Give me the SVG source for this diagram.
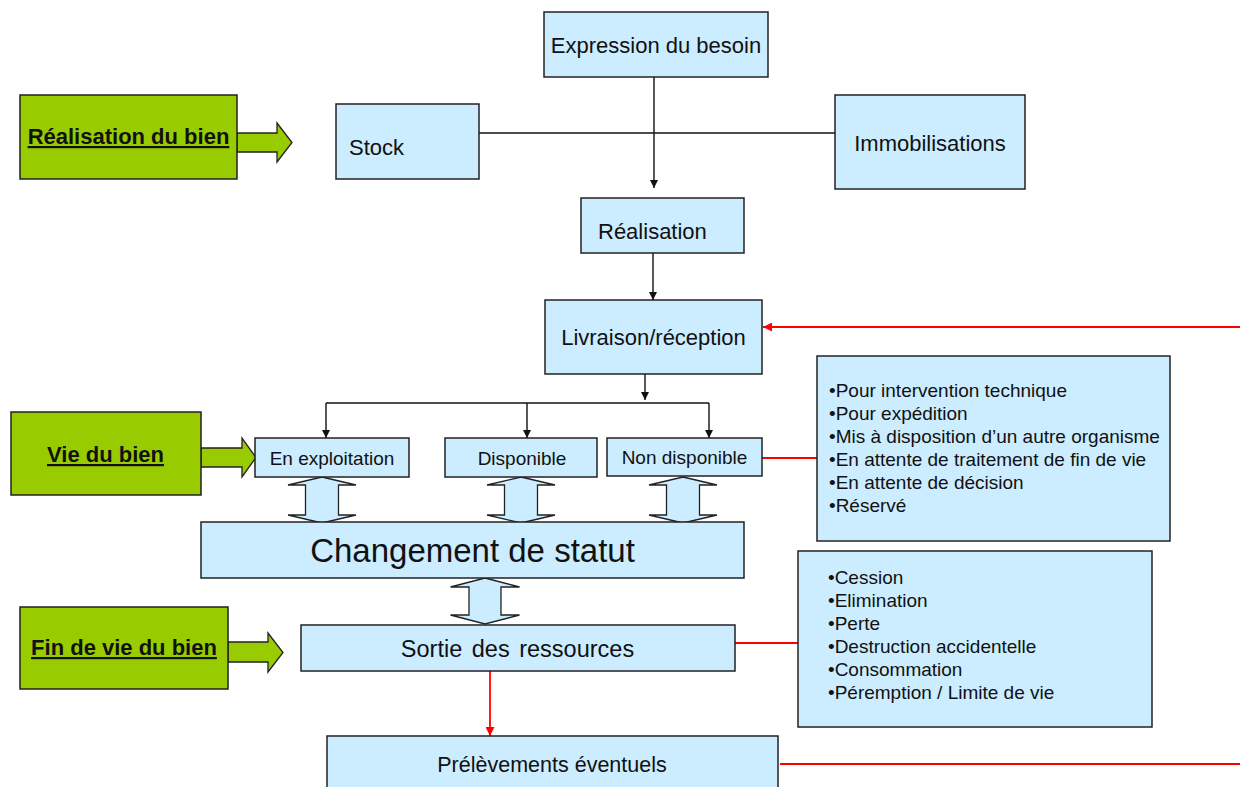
<svg xmlns="http://www.w3.org/2000/svg" width="1240" height="787" viewBox="0 0 1240 787">
<defs>
<style>
.box{fill:#CCECFF;stroke:#222;stroke-width:1.5}
.green{fill:#99CC00;stroke:#222;stroke-width:1.5}
.t{font-family:"Liberation Sans",Arial,sans-serif;fill:#111}
.g{font-family:"Liberation Sans",Arial,sans-serif;font-weight:bold;font-size:22px;text-decoration:underline;fill:#111}
.ln{fill:none;stroke:#111;stroke-width:1.4}
.red{fill:none;stroke:#FF0000;stroke-width:1.8}
.dbl{fill:#CCECFF;stroke:#222;stroke-width:1.3}
.garr{fill:#99CC00;stroke:#222;stroke-width:1.3}
</style>
<marker id="ab" viewBox="0 0 10 10" refX="10" refY="5" markerWidth="8" markerHeight="10" markerUnits="userSpaceOnUse" orient="auto"><path d="M0,0 L10,5 L0,10 Z" fill="#111"/></marker>
<marker id="ar" viewBox="0 0 10 10" refX="10" refY="5" markerWidth="12" markerHeight="9" markerUnits="userSpaceOnUse" orient="auto"><path d="M0,0 L10,5 L0,10 Z" fill="#FF0000"/></marker>
</defs>
<rect width="1240" height="787" fill="#fff"/>

<g id="connectors">
<path class="ln" d="M479,133 H835"/>
<path class="ln" d="M654,77 V188" marker-end="url(#ab)"/>
<path class="ln" d="M653,253 V300" marker-end="url(#ab)"/>
<path class="ln" d="M645,374 V400" marker-end="url(#ab)"/>
<path class="ln" d="M326,403 H709"/>
<path class="ln" d="M326,403 V438" marker-end="url(#ab)"/>
<path class="ln" d="M527,403 V438" marker-end="url(#ab)"/>
<path class="ln" d="M709,403 V438" marker-end="url(#ab)"/>
<path class="red" d="M1240,327 H763" marker-end="url(#ar)"/>
<path class="red" d="M762,458 H817"/>
<path class="red" d="M735,643 H798"/>
<path class="red" d="M490,671 V736" marker-end="url(#ar)"/>
<path class="red" d="M780,764 H1240"/>
<path class="dbl" d="M322,477 L356,485 L338.5,485 L338.5,515 L356,515 L322,523 L288,515 L305.5,515 L305.5,485 L288,485 Z"/>
<path class="dbl" d="M521,477 L555,485 L537.5,485 L537.5,515 L555,515 L521,523 L487,515 L504.5,515 L504.5,485 L487,485 Z"/>
<path class="dbl" d="M683,477 L717,485 L699.5,485 L699.5,515 L717,515 L683,523 L649,515 L666.5,515 L666.5,485 L649,485 Z"/>
<path class="dbl" d="M485,578 L519.5,587 L501,587 L501,615 L519.5,615 L485,624 L450.5,615 L469,615 L469,587 L450.5,587 Z"/>
<path class="garr" d="M237,133 H277 V123 L292,142.5 L277,162 V152 H237 Z"/>
<path class="garr" d="M201,448 H242 V438 L256,457.5 L242,477 V467 H201 Z"/>
<path class="garr" d="M228,642 H268 V633 L283,652.5 L268,672 V662 H228 Z"/>
</g>

<g id="n-expression"><rect class="box" x="544" y="12" width="224" height="65"/><text class="t" x="656" y="53" font-size="22" text-anchor="middle">Expression du besoin</text></g>
<g id="n-stock"><rect class="box" x="336" y="104" width="143" height="75"/><text class="t" x="349" y="155" font-size="22">Stock</text></g>
<g id="n-immo"><rect class="box" x="835" y="95" width="190" height="94"/><text class="t" x="930" y="151" font-size="22" text-anchor="middle">Immobilisations</text></g>
<g id="n-realisation"><rect class="box" x="581" y="198" width="163" height="55"/><text class="t" x="598" y="239" font-size="22">Réalisation</text></g>
<g id="n-livraison"><rect class="box" x="545" y="300" width="217" height="74"/><text class="t" x="653.5" y="345" font-size="22" text-anchor="middle">Livraison/réception</text></g>
<g id="n-exploitation"><rect class="box" x="255" y="438" width="154" height="39"/><text class="t" x="332" y="465" font-size="19" text-anchor="middle">En exploitation</text></g>
<g id="n-disponible"><rect class="box" x="445" y="438" width="152" height="39"/><text class="t" x="522" y="465" font-size="19" text-anchor="middle">Disponible</text></g>
<g id="n-nondispo"><rect class="box" x="607" y="438" width="155" height="38"/><text class="t" x="684.5" y="464" font-size="19" text-anchor="middle">Non disponible</text></g>
<g id="n-changement"><rect class="box" x="201" y="522" width="543" height="56"/><text class="t" x="472.5" y="562" font-size="33" text-anchor="middle">Changement de statut</text></g>
<g id="n-sortie"><rect class="box" x="301" y="625" width="434" height="46"/><text class="t" x="517.5" y="657" font-size="23.5" text-anchor="middle" word-spacing="3">Sortie des ressources</text></g>
<g id="n-prelevements"><rect class="box" x="327" y="736" width="451" height="60"/><text class="t" x="552" y="772" font-size="21.5" text-anchor="middle">Prélèvements éventuels</text></g>
<g id="n-list1"><rect class="box" x="817" y="356" width="353" height="185"/>
<text class="t" font-size="19"><tspan x="829" y="397">•Pour intervention technique</tspan><tspan x="829" y="420">•Pour expédition</tspan><tspan x="829" y="443">•Mis à disposition d’un autre organisme</tspan><tspan x="829" y="466">•En attente de traitement de fin de vie</tspan><tspan x="829" y="489">•En attente de décision</tspan><tspan x="829" y="512">•Réservé</tspan></text></g>
<g id="n-list2"><rect class="box" x="798" y="551" width="354" height="176"/>
<text class="t" font-size="19"><tspan x="828" y="584">•Cession</tspan><tspan x="828" y="607">•Elimination</tspan><tspan x="828" y="630">•Perte</tspan><tspan x="828" y="653">•Destruction accidentelle</tspan><tspan x="828" y="676">•Consommation</tspan><tspan x="828" y="699">•Péremption / Limite de vie</tspan></text></g>
<g id="n-g-realisation"><rect class="green" x="20" y="95" width="217" height="84"/><text class="g" x="128.5" y="144" text-anchor="middle">Réalisation du bien</text></g>
<g id="n-g-vie"><rect class="green" x="11" y="412" width="190" height="83"/><text class="g" x="105.5" y="462" text-anchor="middle">Vie du bien</text></g>
<g id="n-g-fin"><rect class="green" x="20" y="607" width="208" height="82"/><text class="g" x="124" y="655" text-anchor="middle">Fin de vie du bien</text></g>
</svg>
